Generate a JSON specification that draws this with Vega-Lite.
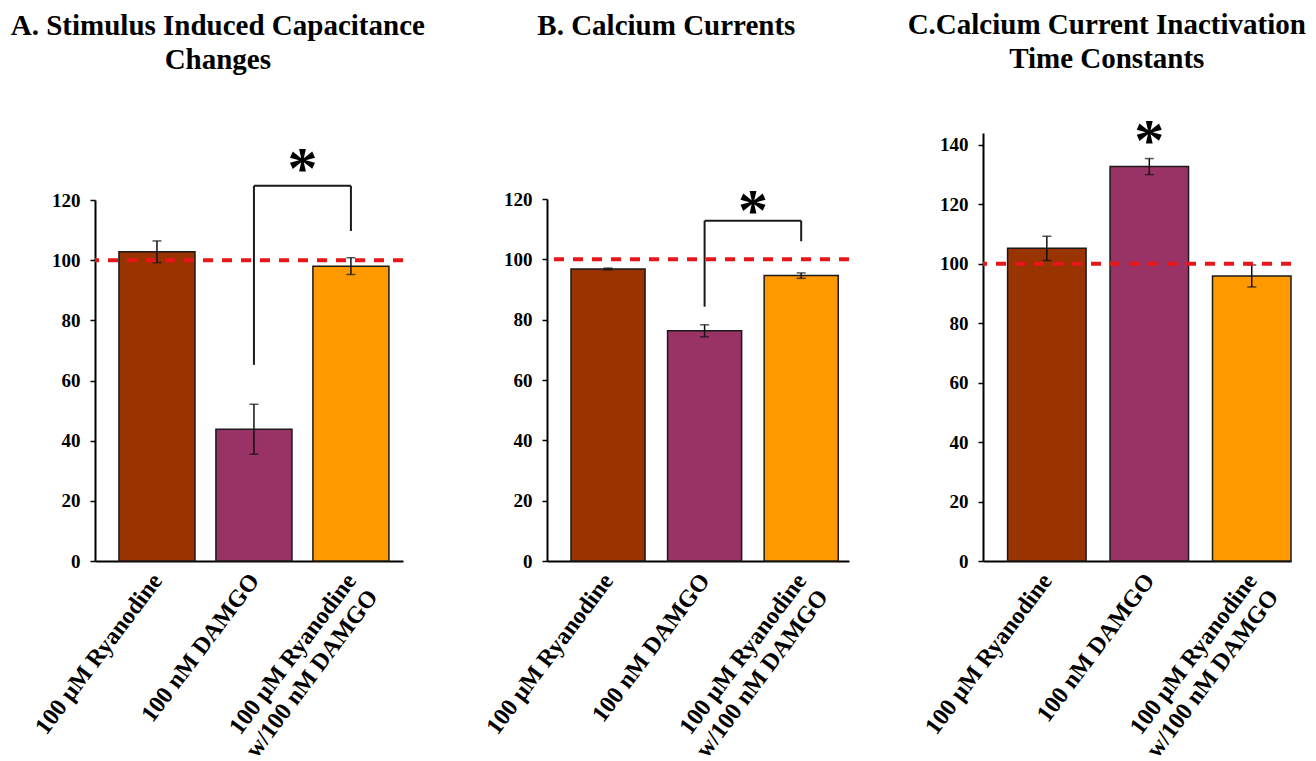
{
  "$schema": "https://vega.github.io/schema/vega-lite/v6.json",
  "background": "white",
  "padding": {"left": 10, "top": 11, "right": 3, "bottom": 0},
  "spacing": 56,
  "config": {
    "font": "Liberation Serif",
    "view": {"stroke": null},
    "axis": {"labelFont": "Liberation Serif", "labelFontWeight": "bold", "labelColor": "black", "domainColor": "black", "domainWidth": 2, "tickColor": "black", "tickWidth": 1.5, "grid": false},
    "title": {"font": "Liberation Serif", "fontWeight": "bold", "fontSize": 29, "color": "black", "anchor": "middle", "frame": "bounds", "lineHeight": 34}
  },
  "datasets": {
    "A": [
      {"treatment": "100 μM Ryanodine", "mean": 102.8, "sem": 3.6},
      {"treatment": "100 nM DAMGO", "mean": 43.8, "sem": 8.3},
      {"treatment": "100 μM Ryanodine w/100 nM DAMGO", "mean": 98.0, "sem": 2.8}
    ],
    "B": [
      {"treatment": "100 μM Ryanodine", "mean": 96.8, "sem": 0.3},
      {"treatment": "100 nM DAMGO", "mean": 76.3, "sem": 2.0},
      {"treatment": "100 μM Ryanodine w/100 nM DAMGO", "mean": 94.6, "sem": 0.9}
    ],
    "C": [
      {"treatment": "100 μM Ryanodine", "mean": 105.2, "sem": 4.1},
      {"treatment": "100 nM DAMGO", "mean": 132.7, "sem": 2.7},
      {"treatment": "100 μM Ryanodine w/100 nM DAMGO", "mean": 95.9, "sem": 3.7}
    ],
    "ref": [{"level": 100}],
    "bracketA": [
      {"treatment": "100 nM DAMGO", "lo": 65.2, "hi": 124.7},
      {"treatment": "100 μM Ryanodine w/100 nM DAMGO", "lo": 109.7, "hi": 124.7}
    ],
    "barA": [{"treatment": "100 nM DAMGO", "treatment2": "100 μM Ryanodine w/100 nM DAMGO", "level": 124.7}],
    "starA": [{"treatment": "100 nM DAMGO", "level": 134, "label": "*"}],
    "bracketB": [
      {"treatment": "100 nM DAMGO", "lo": 84.3, "hi": 112.8},
      {"treatment": "100 μM Ryanodine w/100 nM DAMGO", "lo": 106.0, "hi": 112.8}
    ],
    "barB": [{"treatment": "100 nM DAMGO", "treatment2": "100 μM Ryanodine w/100 nM DAMGO", "level": 112.8}],
    "starB": [{"treatment": "100 nM DAMGO", "level": 119.6, "label": "*"}],
    "starC": [{"treatment": "100 nM DAMGO", "level": 145.0, "label": "*"}]
  },
  "hconcat": [
    {
      "width": 308,
      "height": 428,
      "title": {"text": ["A. Stimulus Induced Capacitance", "Changes"], "offset": 58},
      "encoding": {
        "x": {
          "field": "treatment", "type": "nominal",
          "sort": ["100 μM Ryanodine", "100 nM DAMGO", "100 μM Ryanodine w/100 nM DAMGO"],
          "scale": {"paddingInner": 0.216, "paddingOuter": 0.196, "align": 0.63},
          "axis": {"title": null, "ticks": false, "labelAngle": -53, "labelAlign": "right", "labelBaseline": "top", "labelFontSize": 24, "labelLineHeight": 27, "labelPadding": 8, "labelOffset": -9, "labelLimit": 400,
            "labelExpr": "indexof(datum.label, ' w/') > 0 ? [slice(datum.label, 0, indexof(datum.label, ' w/')), slice(datum.label, indexof(datum.label, ' w/') + 1)] : datum.label"}
        }
      },
      "layer": [
        {
          "data": {"name": "A"},
          "mark": {"type": "bar", "stroke": "#1a1a1a", "strokeWidth": 1.5},
          "encoding": {
            "y": {"field": "mean", "type": "quantitative", "scale": {"domain": [0, 120], "nice": false, "range": [428, 67]},
              "axis": {"title": null, "values": [0, 20, 40, 60, 80, 100, 120], "labelFontSize": 19, "tickSize": 5, "labelPadding": 10}},
            "color": {"field": "treatment", "type": "nominal",
              "scale": {"domain": ["100 μM Ryanodine", "100 nM DAMGO", "100 μM Ryanodine w/100 nM DAMGO"], "range": ["#993300", "#993366", "#ff9900"]}, "legend": null}
          }
        },
        {
          "data": {"name": "A"},
          "mark": {"type": "errorbar", "ticks": true, "size": 9, "thickness": 1.5, "color": "#111111"},
          "encoding": {
            "y": {"field": "mean", "type": "quantitative", "scale": {"domain": [0, 120], "nice": false, "range": [428, 67]}},
            "yError": {"field": "sem"}
          }
        },
        {
          "data": {"name": "ref"},
          "mark": {"type": "rule", "color": "#e8161b", "strokeWidth": 4, "strokeDash": [10, 9]},
          "encoding": {"x": null, "y": {"field": "level", "type": "quantitative", "scale": {"domain": [0, 120], "nice": false, "range": [428, 67]}}}
        },
        {
          "data": {"name": "bracketA"},
          "mark": {"type": "rule", "color": "#1a1a1a", "strokeWidth": 2},
          "encoding": {
            "y": {"field": "lo", "type": "quantitative", "scale": {"domain": [0, 120], "nice": false, "range": [428, 67]}},
            "y2": {"field": "hi"}
          }
        },
        {
          "data": {"name": "barA"},
          "mark": {"type": "rule", "color": "#1a1a1a", "strokeWidth": 2},
          "encoding": {
            "x2": {"field": "treatment2"},
            "y": {"field": "level", "type": "quantitative", "scale": {"domain": [0, 120], "nice": false, "range": [428, 67]}}
          }
        },
        {
          "data": {"name": "starA"},
          "mark": {"type": "text", "fontSize": 60, "fontWeight": "bold", "font": "Liberation Serif", "baseline": "middle", "dy": 12, "color": "black"},
          "encoding": {
            "x": {"field": "treatment", "type": "nominal", "bandPosition": 1.14, "sort": ["100 μM Ryanodine", "100 nM DAMGO", "100 μM Ryanodine w/100 nM DAMGO"]},
            "y": {"field": "level", "type": "quantitative", "scale": {"domain": [0, 120], "nice": false, "range": [428, 67]}},
            "text": {"field": "label"}
          }
        }
      ]
    },
    {
      "width": 302,
      "height": 428,
      "title": {"text": "B. Calcium Currents", "offset": 92},
      "encoding": {
        "x": {
          "field": "treatment", "type": "nominal",
          "sort": ["100 μM Ryanodine", "100 nM DAMGO", "100 μM Ryanodine w/100 nM DAMGO"],
          "scale": {"paddingInner": 0.233, "paddingOuter": 0.18, "align": 0.69},
          "axis": {"title": null, "ticks": false, "labelAngle": -53, "labelAlign": "right", "labelBaseline": "top", "labelFontSize": 24, "labelLineHeight": 27, "labelPadding": 8, "labelOffset": -9, "labelLimit": 400,
            "labelExpr": "indexof(datum.label, ' w/') > 0 ? [slice(datum.label, 0, indexof(datum.label, ' w/')), slice(datum.label, indexof(datum.label, ' w/') + 1)] : datum.label"}
        }
      },
      "layer": [
        {
          "data": {"name": "B"},
          "mark": {"type": "bar", "stroke": "#1a1a1a", "strokeWidth": 1.5},
          "encoding": {
            "y": {"field": "mean", "type": "quantitative", "scale": {"domain": [0, 120], "nice": false, "range": [428, 66]},
              "axis": {"title": null, "values": [0, 20, 40, 60, 80, 100, 120], "labelFontSize": 19, "tickSize": 5, "labelPadding": 10}},
            "color": {"field": "treatment", "type": "nominal",
              "scale": {"domain": ["100 μM Ryanodine", "100 nM DAMGO", "100 μM Ryanodine w/100 nM DAMGO"], "range": ["#993300", "#993366", "#ff9900"]}, "legend": null}
          }
        },
        {
          "data": {"name": "B"},
          "mark": {"type": "errorbar", "ticks": true, "size": 9, "thickness": 1.5, "color": "#111111"},
          "encoding": {
            "y": {"field": "mean", "type": "quantitative", "scale": {"domain": [0, 120], "nice": false, "range": [428, 66]}},
            "yError": {"field": "sem"}
          }
        },
        {
          "data": {"name": "ref"},
          "mark": {"type": "rule", "color": "#e8161b", "strokeWidth": 4, "strokeDash": [10, 9]},
          "encoding": {"x": null, "y": {"field": "level", "type": "quantitative", "scale": {"domain": [0, 120], "nice": false, "range": [428, 66]}}}
        },
        {
          "data": {"name": "bracketB"},
          "mark": {"type": "rule", "color": "#1a1a1a", "strokeWidth": 2},
          "encoding": {
            "y": {"field": "lo", "type": "quantitative", "scale": {"domain": [0, 120], "nice": false, "range": [428, 66]}},
            "y2": {"field": "hi"}
          }
        },
        {
          "data": {"name": "barB"},
          "mark": {"type": "rule", "color": "#1a1a1a", "strokeWidth": 2},
          "encoding": {
            "x2": {"field": "treatment2"},
            "y": {"field": "level", "type": "quantitative", "scale": {"domain": [0, 120], "nice": false, "range": [428, 66]}}
          }
        },
        {
          "data": {"name": "starB"},
          "mark": {"type": "text", "fontSize": 60, "fontWeight": "bold", "font": "Liberation Serif", "baseline": "middle", "dy": 12, "color": "black"},
          "encoding": {
            "x": {"field": "treatment", "type": "nominal", "bandPosition": 1.152, "sort": ["100 μM Ryanodine", "100 nM DAMGO", "100 μM Ryanodine w/100 nM DAMGO"]},
            "y": {"field": "level", "type": "quantitative", "scale": {"domain": [0, 120], "nice": false, "range": [428, 66]}},
            "text": {"field": "label"}
          }
        }
      ]
    },
    {
      "width": 308,
      "height": 428,
      "title": {"text": ["C.Calcium Current Inactivation", "Time Constants"], "offset": 38},
      "encoding": {
        "x": {
          "field": "treatment", "type": "nominal",
          "sort": ["100 μM Ryanodine", "100 nM DAMGO", "100 μM Ryanodine w/100 nM DAMGO"],
          "scale": {"paddingInner": 0.234, "paddingOuter": 0.12, "align": 1},
          "axis": {"title": null, "ticks": false, "labelAngle": -53, "labelAlign": "right", "labelBaseline": "top", "labelFontSize": 24, "labelLineHeight": 27, "labelPadding": 8, "labelOffset": -9, "labelLimit": 400,
            "labelExpr": "indexof(datum.label, ' w/') > 0 ? [slice(datum.label, 0, indexof(datum.label, ' w/')), slice(datum.label, indexof(datum.label, ' w/') + 1)] : datum.label"}
        }
      },
      "layer": [
        {
          "data": {"name": "C"},
          "mark": {"type": "bar", "stroke": "#1a1a1a", "strokeWidth": 1.5},
          "encoding": {
            "y": {"field": "mean", "type": "quantitative", "scale": {"domain": [0, 144], "nice": false},
              "axis": {"title": null, "values": [0, 20, 40, 60, 80, 100, 120, 140], "labelFontSize": 19, "tickSize": 5, "labelPadding": 10}},
            "color": {"field": "treatment", "type": "nominal",
              "scale": {"domain": ["100 μM Ryanodine", "100 nM DAMGO", "100 μM Ryanodine w/100 nM DAMGO"], "range": ["#993300", "#993366", "#ff9900"]}, "legend": null}
          }
        },
        {
          "data": {"name": "C"},
          "mark": {"type": "errorbar", "ticks": true, "size": 9, "thickness": 1.5, "color": "#111111"},
          "encoding": {
            "y": {"field": "mean", "type": "quantitative", "scale": {"domain": [0, 144], "nice": false}},
            "yError": {"field": "sem"}
          }
        },
        {
          "data": {"name": "ref"},
          "mark": {"type": "rule", "color": "#e8161b", "strokeWidth": 4, "strokeDash": [10, 9]},
          "encoding": {"x": null, "y": {"field": "level", "type": "quantitative", "scale": {"domain": [0, 144], "nice": false}}}
        },
        {
          "data": {"name": "starC"},
          "mark": {"type": "text", "fontSize": 60, "fontWeight": "bold", "font": "Liberation Serif", "baseline": "middle", "dy": 12, "color": "black"},
          "encoding": {
            "y": {"field": "level", "type": "quantitative", "scale": {"domain": [0, 144], "nice": false}},
            "text": {"field": "label"}
          }
        }
      ]
    }
  ]
}
